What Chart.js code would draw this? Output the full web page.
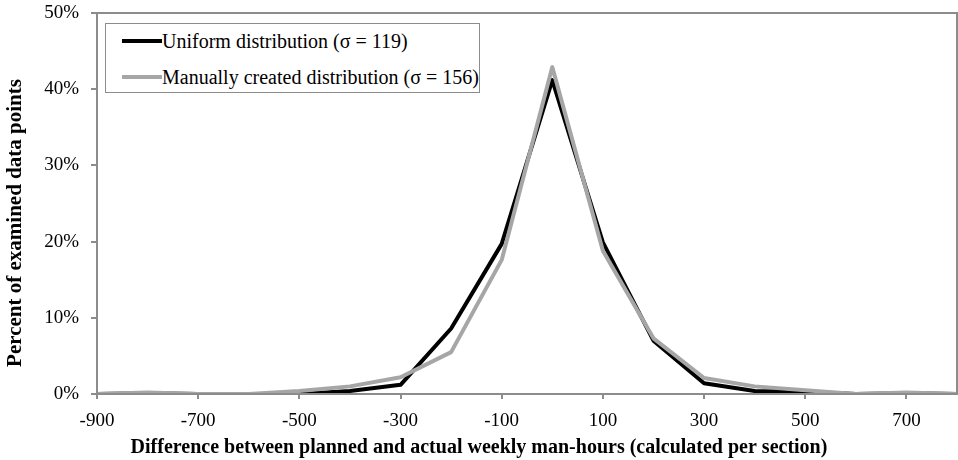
<!DOCTYPE html>
<html>
<head>
<meta charset="utf-8">
<script src="https://cdn.jsdelivr.net/npm/chart.js@4/dist/chart.umd.min.js"></script>
<style>
  html, body { margin: 0; padding: 0; background: #fff; }
  #wrap { position: relative; width: 958px; height: 460px; overflow: hidden; }
  #c { position: absolute; left: 0; top: 0; }
  #legend { position: absolute; left: 105px; top: 23px; width: 375px; height: 70px;
            border: 1px solid #8c8c8c; background: #fff; box-sizing: border-box; }
  .row { position: absolute; left: 16px; height: 24px; display: flex; align-items: center;
         font-family: "Liberation Serif", "Times New Roman", serif; font-size: 20px; color: #000; white-space: nowrap; }
  .swatch { width: 40px; height: 4px; margin-right: 0; }
</style>
</head>
<body>
<div id="wrap">
  <canvas id="c" width="958" height="460"></canvas>
  <div id="legend"></div>
</div>
<script>
// ---- data ----
const xValues = [-900, -800, -700, -600, -500, -400, -300, -200, -100, 0, 100, 200, 300, 400, 500, 600, 700, 800];
const uniformPct = [0, 0.1, 0, 0, 0, 0.4, 1.2, 8.6, 19.7, 41.2, 19.9, 7.0, 1.4, 0.4, 0.3, 0, 0.1, 0];
const manualPct  = [0, 0.2, 0, 0, 0.4, 1.0, 2.2, 5.5, 17.6, 42.9, 18.8, 7.3, 2.1, 1.0, 0.5, 0, 0.2, 0];
const seriesNames = ["Uniform distribution (\u03C3 = 119)", "Manually created distribution (\u03C3 = 156)"];
const xTickLabels = [-900, -700, -500, -300, -100, 100, 300, 500, 700];
const yTickLabels = [0, 10, 20, 30, 40, 50];
const xTitle = "Difference between planned and actual weekly man-hours (calculated per section)";
const yTitle = "Percent of examined data points";

const FONT = '"Liberation Serif", "Times New Roman", serif';
const AXIS_COLOR = '#8c8c8c';

const frameAndTitles = {
  id: 'frameAndTitles',
  afterDraw(chart) {
    const { ctx, chartArea: a } = chart;
    ctx.save();
    ctx.strokeStyle = AXIS_COLOR;
    ctx.lineWidth = 2;
    ctx.strokeRect(a.left, a.top, a.right - a.left, a.bottom - a.top);
    ctx.fillStyle = '#000';
    ctx.textAlign = 'center';
    ctx.textBaseline = 'middle';
    ctx.font = 'bold 20px ' + FONT;
    ctx.fillText(xTitle, chart.width / 2, 448);
    ctx.translate(16, chart.height / 2 - 7);
    ctx.rotate(-Math.PI / 2);
    ctx.font = 'bold 21px ' + FONT;
    ctx.fillText(yTitle, 0, 0);
    ctx.restore();
  }
};

const chart = new Chart(document.getElementById('c'), {
  type: 'line',
  data: {
    datasets: [
      { label: seriesNames[0], data: xValues.map((x, i) => ({ x, y: uniformPct[i] })),
        borderColor: '#000000', backgroundColor: '#000000', borderWidth: 4, pointRadius: 0,
        tension: 0, borderJoinStyle: 'round', order: 1 },
      { label: seriesNames[1], data: xValues.map((x, i) => ({ x, y: manualPct[i] })),
        borderColor: '#a6a6a6', backgroundColor: '#a6a6a6', borderWidth: 4, pointRadius: 0,
        tension: 0, borderJoinStyle: 'round', order: 0 }
    ]
  },
  options: {
    responsive: false,
    devicePixelRatio: 1,
    animation: false,
    layout: { padding: { left: 0, right: 1, top: 13, bottom: 0 } },
    plugins: { legend: { display: false }, tooltip: { enabled: false } },
    scales: {
      x: {
        type: 'linear', min: -900, max: 800,
        afterBuildTicks: s => { s.ticks = xTickLabels.map(v => ({ value: v })); },
        afterFit: s => { s.height = 66; s.paddingLeft = 0; s.paddingRight = 0; },
        grid: { display: true, drawOnChartArea: false, drawTicks: true, tickLength: 5, color: AXIS_COLOR, lineWidth: 2 },
        border: { display: false },
        ticks: { color: '#000', font: { family: FONT, size: 19 }, padding: 11, maxRotation: 0, autoSkip: false }
      },
      y: {
        min: 0, max: 50,
        afterBuildTicks: s => { s.ticks = yTickLabels.map(v => ({ value: v })); },
        afterFit: s => { s.width = 97; s.paddingTop = 0; s.paddingBottom = 0; },
        grid: { display: true, drawOnChartArea: false, drawTicks: true, tickLength: 6, color: AXIS_COLOR, lineWidth: 2 },
        border: { display: false },
        ticks: { color: '#000', font: { family: FONT, size: 19 }, padding: 12, callback: v => v + '%' }
      }
    }
  },
  plugins: [frameAndTitles]
});

// HTML legend built from datasets (legend order: Uniform first)
const legend = document.getElementById('legend');
[0, 1].forEach((i, k) => {
  const ds = chart.data.datasets[i];
  const row = document.createElement('div');
  row.className = 'row';
  row.style.top = (5 + k * 36) + 'px';
  const sw = document.createElement('span');
  sw.className = 'swatch';
  sw.style.background = ds.borderColor;
  const tx = document.createElement('span');
  tx.textContent = ds.label;
  row.appendChild(sw); row.appendChild(tx);
  legend.appendChild(row);
});
</script>
</body>
</html>
